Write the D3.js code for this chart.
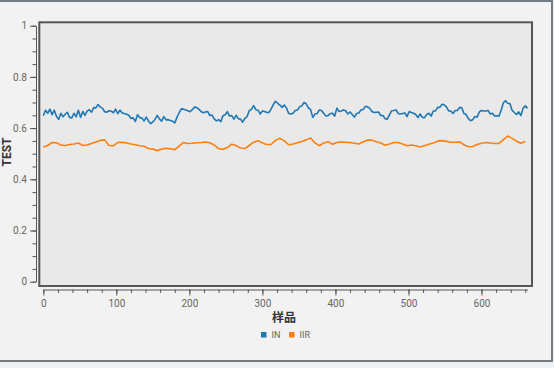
<!DOCTYPE html>
<html>
<head>
<meta charset="utf-8">
<script src="https://cdn.jsdelivr.net/npm/d3@7"></script>
<style>
  html, body { margin: 0; padding: 0; background: #eef0f1; }
  svg { display: block; }
</style>
</head>
<body>
<svg id="chart" width="554" height="368"></svg>
<script>
// ---- data ----
const seriesNames = ["IN", "IIR"];
const seriesColors = ["#1f77b4", "#ff7f0e"];
const xTickValues = [0, 100, 200, 300, 400, 500, 600];
const yTickValues = [0, 0.2, 0.4, 0.6, 0.8, 1];
const xLabel = "样品";
const yLabel = "TEST";
const inStep = 3;   // sample spacing of IN readings
const iirStep = 6;  // sample spacing of IIR readings
const inValues = [
  .648,.670,.658,.674,.652,.670,.646,.634,.658,.644,
  .654,.662,.642,.640,.658,.644,.670,.642,.665,.650,
  .666,.672,.662,.680,.679,.692,.682,.678,.664,.662,
  .668,.666,.660,.674,.656,.670,.659,.657,.654,.650,
  .638,.640,.626,.652,.641,.640,.628,.643,.628,.617,
  .624,.634,.650,.636,.627,.645,.632,.633,.630,.627,
  .620,.642,.660,.675,.674,.671,.668,.664,.672,.682,
  .680,.674,.665,.660,.663,.665,.649,.651,.636,.628,
  .633,.625,.648,.652,.664,.647,.649,.635,.650,.637,
  .635,.623,.638,.645,.668,.673,.688,.672,.670,.655,
  .667,.665,.661,.661,.675,.692,.705,.697,.690,.681,
  .690,.678,.657,.655,.658,.669,.671,.683,.687,.700,
  .695,.679,.672,.642,.655,.657,.671,.669,.657,.647,
  .649,.657,.658,.647,.678,.665,.667,.671,.668,.655,
  .663,.653,.643,.657,.659,.671,.673,.685,.683,.677,
  .665,.661,.662,.663,.649,.649,.637,.635,.652,.668,
  .669,.671,.657,.655,.657,.659,.645,.665,.661,.658,
  .653,.641,.655,.642,.641,.653,.658,.647,.667,.667,
  .681,.681,.693,.691,.683,.667,.667,.657,.669,.669,
  .681,.679,.657,.653,.637,.629,.633,.645,.643,.663,
  .669,.667,.667,.669,.655,.658,.647,.648,.647,.671,
  .699,.707,.697,.695,.669,.661,.653,.663,.649,.678,.687,.677
];
const iirValues = [
  .526,.532,.544,.543,.534,.532,.536,.538,.542,.532,
  .534,.540,.546,.552,.554,.532,.531,.544,.545,.542,
  .538,.535,.531,.529,.520,.518,.512,.518,.521,.519,
  .516,.530,.544,.540,.541,.543,.544,.546,.543,.534,
  .520,.517,.524,.537,.532,.522,.520,.532,.545,.551,
  .542,.536,.536,.552,.560,.550,.535,.538,.543,.548,
  .554,.561,.542,.531,.542,.547,.537,.544,.546,.545,
  .544,.541,.538,.547,.553,.553,.547,.542,.533,.538,
  .544,.544,.538,.531,.534,.531,.526,.531,.537,.542,
  .549,.551,.548,.545,.545,.546,.535,.527,.528,.536,
  .541,.544,.542,.540,.540,.555,.569,.560,.549,.541,.548
];

// ---- drawing ----
const svg = d3.select("#chart");

// window frame
svg.append("rect").attr("x", 0).attr("y", 0).attr("width", 554).attr("height", 368).attr("fill", "#eef0f1");
svg.append("rect").attr("x", 0).attr("y", 0).attr("width", 553).attr("height", 362).attr("fill", "#737a80");
svg.append("rect").attr("x", 0).attr("y", 2).attr("width", 551).attr("height", 358).attr("fill", "#f2f2f2");

const x = d3.scaleLinear().domain([0, 663]).range([43.3, 527.5]);
const y = d3.scaleLinear().domain([0, 1]).range([281.7, 25.7]);

// plot area
svg.append("rect")
  .attr("x", 39.3).attr("y", 22.3).attr("width", 492.7).attr("height", 263.7)
  .attr("fill", "#e9e9e9").attr("stroke", "#565656").attr("stroke-width", 2);

const axisColor = "#555";
const tickFont = "Roboto, 'Open Sans', sans-serif";

// y axis
const yMinor = d3.range(0, 1.0001, 0.05);
const yAxisMinor = svg.append("g").attr("transform", "translate(36,0)")
  .call(d3.axisLeft(y).tickValues(yMinor).tickSize(3.5).tickFormat(""));
yAxisMinor.select(".domain").remove();
const yAxis = svg.append("g").attr("transform", "translate(36,0)")
  .call(d3.axisLeft(y).tickValues(yTickValues).tickSize(6).tickSizeOuter(0).tickPadding(3)
    .tickFormat(d3.format("~g")));
svg.selectAll("g .domain").attr("stroke", axisColor);
[yAxis, yAxisMinor].forEach(g => g.selectAll("line").attr("stroke", axisColor));
yAxis.selectAll("text").attr("fill", "#666").style("font-size", "10px").style("font-family", tickFont);

// x axis
const xMinor = d3.range(0, 661, 20);
const xAxisMinor = svg.append("g").attr("transform", "translate(0,289.5)")
  .call(d3.axisBottom(x).tickValues(xMinor).tickSize(3.5).tickFormat(""));
xAxisMinor.select(".domain").remove();
const xAxis = svg.append("g").attr("transform", "translate(0,289.5)")
  .call(d3.axisBottom(x).tickValues(xTickValues).tickSize(6).tickSizeOuter(0).tickPadding(4));
xAxis.select(".domain").attr("stroke", axisColor);
[xAxis, xAxisMinor].forEach(g => g.selectAll("line").attr("stroke", axisColor));
xAxis.selectAll("text").attr("fill", "#666").style("font-size", "10px").style("font-family", tickFont);

// lines
const series = [
  { name: seriesNames[0], color: seriesColors[0], step: inStep, values: inValues },
  { name: seriesNames[1], color: seriesColors[1], step: iirStep, values: iirValues }
];
const line = d3.line().x(d => x(d[0])).y(d => y(d[1]));
series.forEach(s => {
  const pts = s.values.map((v, i) => [i * s.step, v]);
  svg.append("path").datum(pts)
    .attr("fill", "none").attr("stroke", s.color).attr("stroke-width", 1.6)
    .attr("stroke-linejoin", "round").attr("d", line);
});

// axis titles
svg.append("text").attr("x", 284).attr("y", 322).attr("text-anchor", "middle")
  .attr("fill", "#333").style("font-size", "12px").style("font-weight", "bold")
  .style("font-family", "'Noto Sans CJK SC', sans-serif").text(xLabel);
svg.append("text").attr("transform", "translate(11,152) rotate(-90)").attr("text-anchor", "middle")
  .attr("fill", "#333").style("font-size", "12px").style("font-weight", "bold")
  .style("font-family", tickFont).text(yLabel);

// legend
const legendX = [261, 289];
series.forEach((s, i) => {
  const g = svg.append("g").attr("transform", `translate(${legendX[i]},332)`);
  g.append("rect").attr("width", 5.5).attr("height", 5.5).attr("fill", s.color);
  g.append("text").attr("x", 10.5).attr("y", 5.5).attr("fill", "#666")
    .style("font-size", "9px").style("font-family", tickFont).text(s.name);
});
</script>
</body>
</html>
